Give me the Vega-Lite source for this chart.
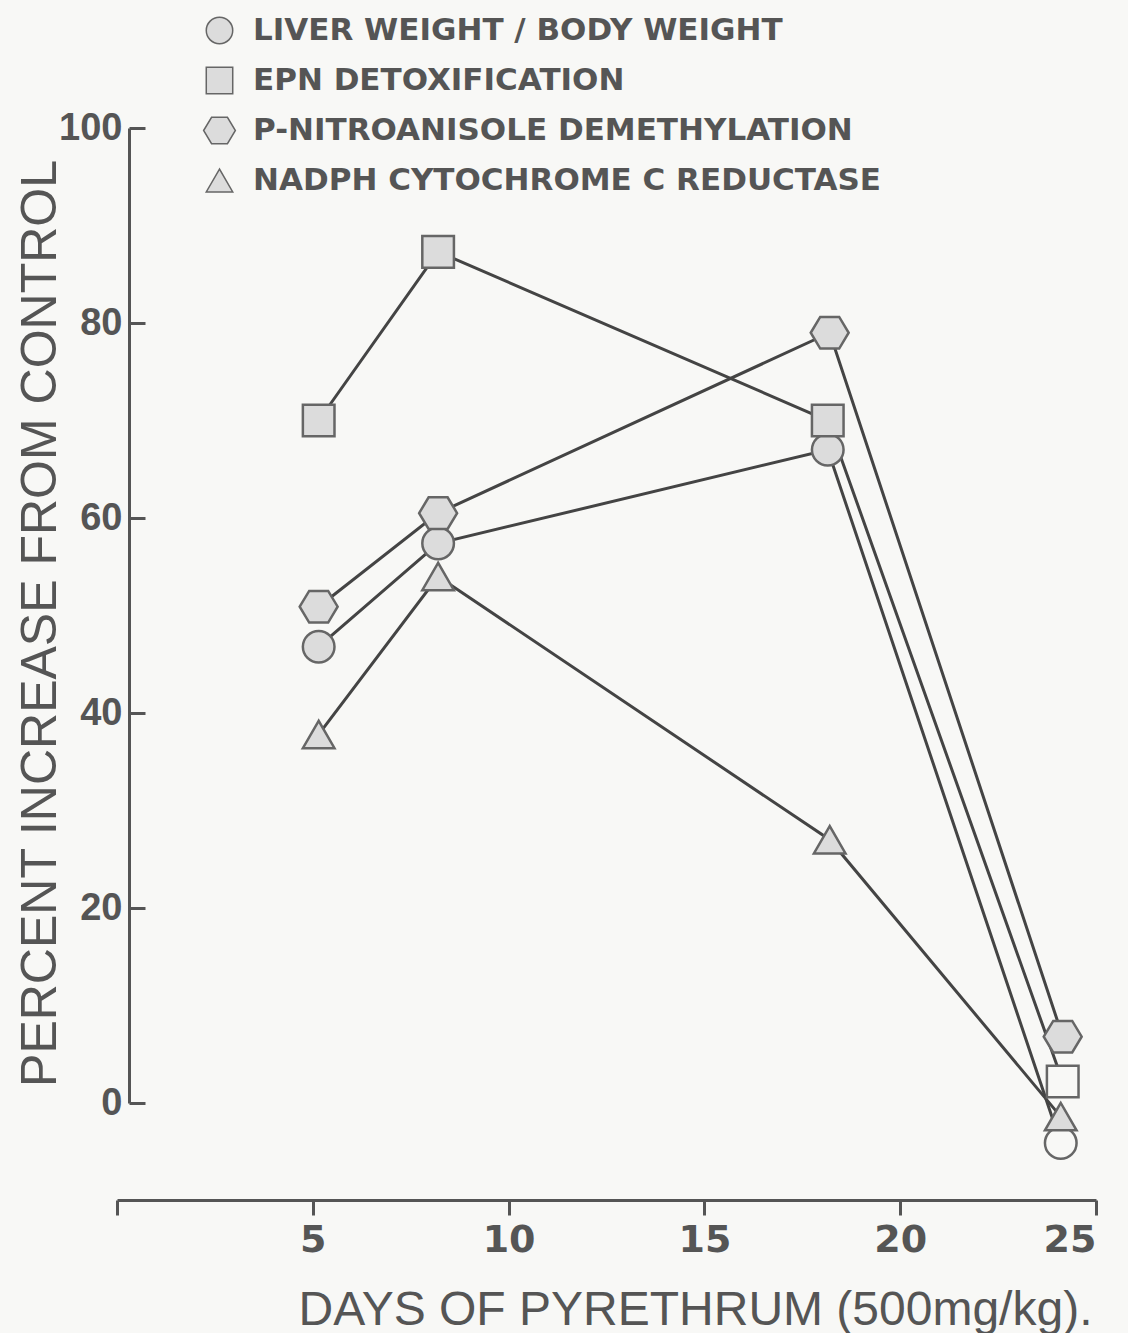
{
  "$schema": "https://vega.github.io/schema/vega-lite/v6.json",
  "autosize": "none",
  "width": 979,
  "height": 975,
  "padding": {"left": 117, "top": 128, "right": 32, "bottom": 230},
  "background": "#f8f8f6",
  "config": {
    "view": {"stroke": null},
    "axis": {"domainColor": "#555", "domainWidth": 3, "tickColor": "#555", "tickWidth": 3, "grid": false, "labelColor": "#555", "titleColor": "#555", "labelFont": "DejaVu Sans", "titleFont": "Liberation Sans"}
  },
  "data": {
    "values": [
      {"series": "LIVER WEIGHT / BODY WEIGHT", "day": 5.15, "pct": 46.8},
      {"series": "LIVER WEIGHT / BODY WEIGHT", "day": 8.2, "pct": 57.4},
      {"series": "LIVER WEIGHT / BODY WEIGHT", "day": 18.15, "pct": 67},
      {"series": "LIVER WEIGHT / BODY WEIGHT", "day": 24.1, "pct": -4.1},
      {"series": "EPN DETOXIFICATION", "day": 5.15, "pct": 70},
      {"series": "EPN DETOXIFICATION", "day": 8.2, "pct": 87.3},
      {"series": "EPN DETOXIFICATION", "day": 18.15, "pct": 70},
      {"series": "EPN DETOXIFICATION", "day": 24.15, "pct": 2.2},
      {"series": "P-NITROANISOLE DEMETHYLATION", "day": 5.15, "pct": 50.9},
      {"series": "P-NITROANISOLE DEMETHYLATION", "day": 8.2, "pct": 60.5},
      {"series": "P-NITROANISOLE DEMETHYLATION", "day": 18.2, "pct": 79},
      {"series": "P-NITROANISOLE DEMETHYLATION", "day": 24.15, "pct": 6.8},
      {"series": "NADPH CYTOCHROME C REDUCTASE", "day": 5.15, "pct": 37.8},
      {"series": "NADPH CYTOCHROME C REDUCTASE", "day": 8.2, "pct": 54},
      {"series": "NADPH CYTOCHROME C REDUCTASE", "day": 18.2, "pct": 27},
      {"series": "NADPH CYTOCHROME C REDUCTASE", "day": 24.1, "pct": -1.4}
    ]
  },
  "encoding": {
    "x": {
      "field": "day", "type": "quantitative",
      "scale": {"domain": [0, 25], "nice": false},
      "axis": {
        "values": [0, 5, 10, 15, 20, 25], "offset": 97, "tickSize": 15,
        "labelExpr": "datum.value == 0 ? '' : datum.label",
        "labelFontSize": 38, "labelFontWeight": "bold", "labelPadding": 6,
        "title": "DAYS  OF  PYRETHRUM (500mg/kg).", "titleFontSize": 48, "titleFontWeight": "normal",
        "titleX": 578, "titleY": 110, "titleAlign": "center", "titleBaseline": "middle"
      }
    },
    "y": {
      "field": "pct", "type": "quantitative",
      "scale": {"domain": [0, 100], "nice": false, "zero": false},
      "axis": {
        "values": [0, 20, 40, 60, 80, 100], "offset": -12, "tickSize": -16,
        "labelFont": "Liberation Sans", "labelFontSize": 38, "labelFontWeight": "bold", "labelPadding": 23,
        "title": "PERCENT INCREASE FROM CONTROL", "titleFontSize": 50, "titleFontWeight": "normal",
        "titleAngle": 270, "titleX": -89, "titleY": 495, "titleAlign": "center", "titleBaseline": "middle"
      }
    }
  },
  "layer": [
    {
      "mark": {"type": "line", "stroke": "#444", "strokeWidth": 3},
      "encoding": {"detail": {"field": "series"}}
    },
    {
      "mark": {"type": "point", "filled": true, "stroke": "#666", "strokeWidth": 2.5, "opacity": 1, "size": 1000},
      "encoding": {
        "fill": {
          "condition": {"test": "datum.day > 23 && (datum.series == 'LIVER WEIGHT / BODY WEIGHT' || datum.series == 'EPN DETOXIFICATION')", "value": "#f8f8f6"},
          "value": "#dcdcdc"
        },
        "shape": {
          "field": "series", "type": "nominal",
          "scale": {
            "domain": ["LIVER WEIGHT / BODY WEIGHT", "EPN DETOXIFICATION", "P-NITROANISOLE DEMETHYLATION", "NADPH CYTOCHROME C REDUCTASE"],
            "range": ["circle", "square", "M-1.2,0L-0.6,-1L0.6,-1L1.2,0L0.6,1L-0.6,1Z", "triangle-up"]
          },
          "legend": {
            "orient": "none", "legendX": 87, "legendY": -113, "title": null,
            "symbolSize": 700,
            "labelFont": "DejaVu Sans", "labelFontWeight": "bold", "labelFontSize": 31, "labelColor": "#555",
            "labelLimit": 1000, "rowPadding": 17, "labelOffset": 18,
            "encode": {
              "symbols": {
                "update": {
                  "fill": {"value": "#dcdcdc"},
                  "stroke": {"value": "#777"},
                  "strokeWidth": {"value": 2.5},
                  "opacity": {"value": 1}
                }
              }
            }
          }
        }
      }
    }
  ]
}
